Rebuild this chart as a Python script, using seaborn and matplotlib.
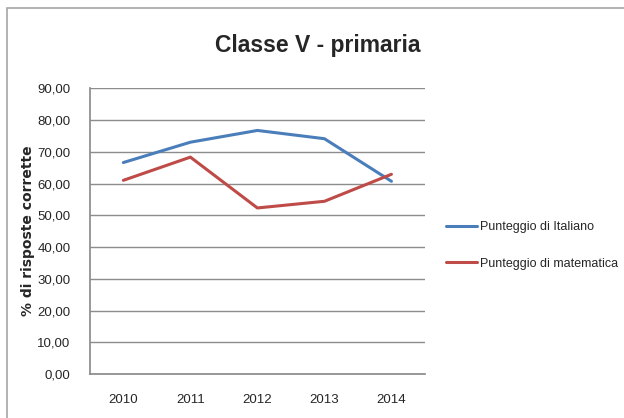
import pandas as pd
import seaborn as sns
import matplotlib.pyplot as plt
from matplotlib.patches import Rectangle

# Data
anni = ["2010", "2011", "2012", "2013", "2014"]
italiano = [66.6, 73.0, 76.7, 74.1, 60.7]
matematica = [61.0, 68.3, 52.3, 54.4, 62.9]
serie = ["Punteggio di Italiano", "Punteggio di matematica"]
y_ticks = [0, 10, 20, 30, 40, 50, 60, 70, 80, 90]

df = pd.DataFrame({
    "anno": anni * 2,
    "valore": italiano + matematica,
    "serie": [serie[0]] * len(anni) + [serie[1]] * len(anni),
})

sns.set_theme(style="white")
plt.rcParams["font.family"] = ["Liberation Sans", "DejaVu Sans"]

fig = plt.figure(figsize=(6.24, 4.18), dpi=100)
ax = fig.add_axes([0.144, 0.105, 0.537, 0.684])

# outer chart border
fig.patches.append(Rectangle((7 / 624, -0.1), 1.2, 1 - 8 / 418 + 0.1, transform=fig.transFigure,
                             fill=False, edgecolor="#a6a6a6", linewidth=1.2))

sns.lineplot(data=df, x="anno", y="valore", hue="serie", sort=False,
             palette=["#4a7ebb", "#be4b48"], linewidth=2.2, ax=ax)

ax.set_xlim(-0.5, 4.5)
ax.set_ylim(0, 90)
ax.set_yticks(y_ticks)
ax.set_yticklabels([f"{v:.2f}".replace(".", ",") for v in y_ticks], fontsize=9.5)
ax.tick_params(axis="x", labelsize=9.5, pad=8)
ax.tick_params(axis="y", pad=8)
ax.yaxis.grid(True, color="#8c8c8c", linewidth=1)
ax.set_axisbelow(True)
for s in ["top", "right"]:
    ax.spines[s].set_visible(False)
ax.spines["left"].set_color("#8c8c8c")
ax.spines["bottom"].set_color("#8c8c8c")
ax.set_xlabel("")
ax.set_ylabel("% di risposte corrette", fontsize=10, fontweight="bold",
              family=["DejaVu Sans"])
ax.yaxis.set_label_coords(-0.165, 0.5)
ax.set_title("Classe V - primaria", fontsize=16.5, fontweight="bold", pad=26, x=0.68)

ax.legend(title=None, frameon=False, loc="center left", bbox_to_anchor=(1.03, 0.45),
          fontsize=9, handlelength=2.5, handletextpad=0.2, labelspacing=1.95)

fig.savefig("out.png", dpi=100)
